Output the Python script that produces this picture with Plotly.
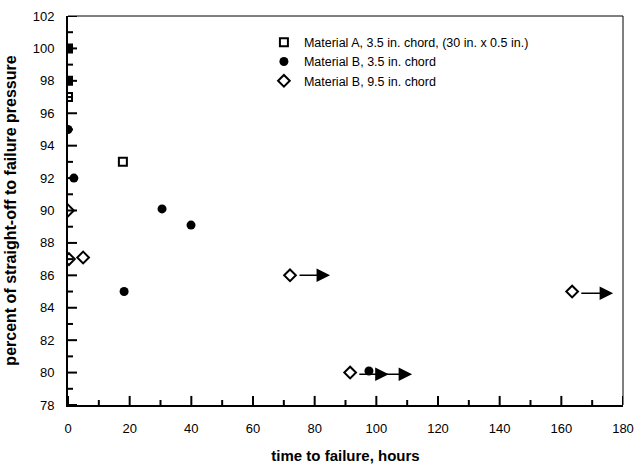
import plotly.graph_objects as go

# Data
matA_x = [0, 0, 0, 17.8]
matA_y = [100, 98, 97, 93]

matB35_x = [0, 0, 0, 1.9, 18.2, 30.5, 39.9, 97.6]
matB35_y = [100, 98, 95, 92, 85, 90.1, 89.1, 80.1]

matB95_x = [0, 0.3, 4.9, 72, 91.5, 163.5]
matB95_y = [90, 87, 87.1, 86, 80, 85]

# runout arrows (start x, end x, y)
arrow_x0 = [74.6, 94.0, 100.2, 166.0]
arrow_x1 = [85.0, 104.0, 111.6, 176.8]
arrow_y = [86, 79.9, 79.9, 84.9]

x_major = list(range(0, 181, 20))
x_minor = list(range(10, 180, 20))
y_major = list(range(78, 103, 2))
y_minor = list(range(79, 102, 2))

y_range = [78, 102]
font = "Liberation Sans, Arial, sans-serif"

fig = go.Figure()
fig.add_trace(go.Scatter(
    x=matA_x, y=matA_y, mode="markers",
    name="Material A, 3.5 in. chord, (30 in. x 0.5 in.)",
    marker=dict(symbol="square-open", size=8, color="black", line=dict(width=2, color="black")),
))
fig.add_trace(go.Scatter(
    x=matB35_x, y=matB35_y, mode="markers",
    name="Material B, 3.5 in. chord",
    marker=dict(symbol="circle", size=9, color="black"),
))
fig.add_trace(go.Scatter(
    x=matB95_x, y=matB95_y, mode="markers",
    name="Material B, 9.5 in. chord",
    marker=dict(symbol="diamond-open", size=9, color="black", line=dict(width=2, color="black")),
))

for x0, x1, y in zip(arrow_x0, arrow_x1, arrow_y):
    fig.add_annotation(
        x=x1, y=y, ax=x0, ay=y, xref="x", yref="y", axref="x", ayref="y",
        text="", showarrow=True, arrowhead=2, arrowsize=1.8, arrowwidth=1.5,
        arrowcolor="black",
    )

# inside tick marks (placed via the axes' own scales)
tick_line = dict(color="black", width=2)
for v, ln in [(v, 0.56) for v in x_major] + [(v, 0.31) for v in x_minor]:
    fig.add_shape(type="line", xref="x", yref="y",
                  x0=v, x1=v, y0=y_range[0], y1=y_range[0] + ln, line=tick_line, layer="above")
for v, ln in [(v, 9) for v in y_major] + [(v, 5) for v in y_minor]:
    fig.add_shape(type="line", xref="paper", yref="y", xsizemode="pixel", xanchor=0,
                  x0=0, x1=ln, y0=v, y1=v, line=tick_line, layer="above")

# top and right thin frame lines
fig.add_shape(type="line", xref="paper", yref="paper", x0=0, x1=1, y0=1, y1=1,
              line=dict(color="black", width=1))
fig.add_shape(type="line", xref="paper", yref="paper", x0=1, x1=1, y0=0, y1=1,
              line=dict(color="black", width=1))

fig.update_layout(
    width=634, height=467,
    margin=dict(l=68, r=11, t=16, b=62, autoexpand=False),
    plot_bgcolor="white", paper_bgcolor="white",
    font=dict(family=font, size=13, color="black"),
    showlegend=True,
    legend=dict(x=0.353, y=0.97, xanchor="left", yanchor="top",
                bgcolor="rgba(0,0,0,0)", font=dict(size=12.5),
                tracegroupgap=0),
    xaxis=dict(
        range=[0, 180], tickmode="array", tickvals=x_major,
        showgrid=False, zeroline=False, automargin=False,
        showline=True, linecolor="black", linewidth=2, ticks="",
        ticklabelstandoff=10,
        title=dict(text="<b>time to failure, hours</b>", font=dict(size=15), standoff=16),
    ),
    yaxis=dict(
        range=y_range, tickmode="array", tickvals=y_major,
        showgrid=False, zeroline=False, automargin=False,
        showline=True, linecolor="black", linewidth=2, ticks="",
        ticklabelstandoff=9,
        title=dict(text="<b>percent of straight-off to failure pressure</b>", font=dict(size=16), standoff=12),
    ),
)

fig.write_html("out.html")
